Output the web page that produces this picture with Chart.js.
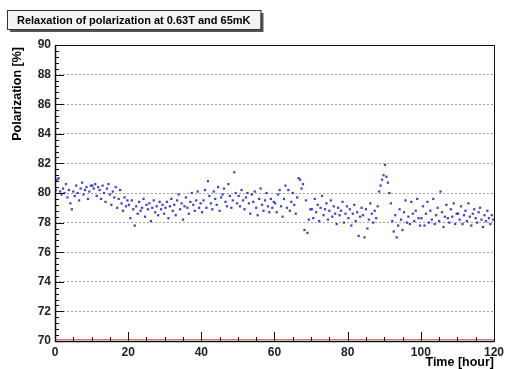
<!DOCTYPE html>
<html>
<head>
<meta charset="utf-8">
<script src="https://cdn.jsdelivr.net/npm/chart.js@4"></script>
<style>
  html, body { margin: 0; padding: 0; background: #fff; }
  #wrap { width: 508px; height: 369px; }
</style>
</head>
<body>
<div id="wrap"><canvas id="chart" width="508" height="369"></canvas></div>
<script>
// measurement time in hours
const timeHours = [
  0.2, 0.6, 1.0, 1.4, 1.8, 2.2, 2.6, 3.0, 3.4, 3.8, 4.2, 4.6, 5.0, 5.4, 5.8, 6.2, 6.6, 7.0, 7.4, 7.8, 8.2, 8.6, 9.0, 9.4, 9.8,
  10.2, 10.6, 11.0, 11.4, 11.8, 12.2, 12.6, 13.0, 13.4, 13.8, 14.2, 14.6, 15.0, 15.4, 15.8, 16.2, 16.6, 17.0, 17.4, 17.8, 18.2, 18.6, 19.0, 19.4, 19.8,
  20.2, 20.6, 21.0, 21.4, 21.8, 22.2, 22.6, 23.0, 23.4, 23.8, 24.2, 24.6, 25.0, 25.4, 25.8, 26.2, 26.6, 27.0, 27.4, 27.8, 28.2, 28.6, 29.0, 29.4, 29.8,
  30.2, 30.6, 31.0, 31.4, 31.8, 32.2, 32.6, 33.0, 33.4, 33.8, 34.2, 34.6, 35.0, 35.4, 35.8, 36.2, 36.6, 37.0, 37.4, 37.8, 38.2, 38.6, 39.0, 39.4, 39.8,
  40.2, 40.6, 41.0, 41.4, 41.8, 42.2, 42.6, 43.0, 43.4, 43.8, 44.2, 44.6, 45.0, 45.4, 45.8, 46.2, 46.6, 47.0, 47.4, 47.8, 48.2, 48.6, 49.0, 49.4, 49.8,
  50.2, 50.6, 51.0, 51.4, 51.8, 52.2, 52.6, 53.0, 53.4, 53.8, 54.2, 54.6, 55.0, 55.4, 55.8, 56.2, 56.6, 57.0, 57.4, 57.8, 58.2, 58.6, 59.0, 59.4, 59.8,
  60.2, 60.6, 61.0, 61.4, 61.8, 62.2, 62.6, 63.0, 63.4, 63.8, 64.2, 64.6, 65.0, 65.4, 65.8, 66.2, 66.6, 67.0, 67.4, 67.8, 68.2, 68.6, 69.0, 69.4, 69.8,
  70.2, 70.6, 71.0, 71.4, 71.8, 72.2, 72.6, 73.0, 73.4, 73.8, 74.2, 74.6, 75.0, 75.4, 75.8, 76.2, 76.6, 77.0, 77.4, 77.8, 78.2, 78.6, 79.0, 79.4, 79.8,
  80.2, 80.6, 81.0, 81.4, 81.8, 82.2, 82.6, 83.0, 83.4, 83.8, 84.2, 84.6, 85.0, 85.4, 85.8, 86.2, 86.6, 87.0, 87.4, 87.8, 88.2, 88.6, 89.0, 89.4, 89.8,
  90.2, 90.6, 91.0, 91.4, 91.8, 92.2, 92.6, 93.0, 93.4, 93.8, 94.2, 94.6, 95.0, 95.4, 95.8, 96.2, 96.6, 97.0, 97.4, 97.8, 98.2, 98.6, 99.0, 99.4, 99.8,
  100.2, 100.6, 101.0, 101.4, 101.8, 102.2, 102.6, 103.0, 103.4, 103.8, 104.2, 104.6, 105.0, 105.4, 105.8, 106.2, 106.6, 107.0, 107.4, 107.8, 108.2, 108.6, 109.0, 109.4, 109.8,
  110.2, 110.6, 111.0, 111.4, 111.8, 112.2, 112.6, 113.0, 113.4, 113.8, 114.2, 114.6, 115.0, 115.4, 115.8, 116.2, 116.6, 117.0, 117.4, 117.8, 118.2, 118.6, 119.0, 119.4, 119.8
];

// polarization in %
const polarization = [
  80.2, 80.9, 81.0, 80.1, 79.9, 80.3, 80.0, 80.6, 79.7, 80.2, 79.3, 78.9, 80.1, 79.8, 80.5, 80.0, 79.5, 80.3, 80.7, 79.9, 80.2, 80.4, 79.6, 80.1, 80.5,
  80.5, 80.3, 80.6, 79.8, 80.4, 80.2, 79.6, 80.5, 80.0, 79.4, 80.3, 80.6, 79.9, 79.2, 80.1, 79.7, 80.4, 79.0, 79.6, 80.2, 79.3, 78.8, 79.7, 79.1, 79.5,
  79.2, 78.3, 79.5, 78.9, 77.8, 79.1, 78.6, 79.4, 78.8, 79.0, 79.6, 78.4, 79.2, 78.9, 79.3, 78.1, 79.0, 79.5, 78.7, 79.1, 78.5, 79.4, 78.9, 79.2, 78.6,
  79.0, 79.4, 78.3, 79.1, 79.6, 78.8, 79.2, 78.5, 79.5, 79.9, 78.9, 79.3, 78.2, 79.1, 79.7, 79.0, 78.6, 79.4, 80.0, 79.2, 78.8, 79.5, 80.1, 79.0, 79.3,
  78.7, 79.5, 80.2, 79.0, 80.8, 79.8, 79.3, 78.9, 80.1, 79.6, 79.2, 80.4, 78.8, 79.7, 79.9, 80.3, 79.4, 79.1, 80.6, 79.8, 79.0, 79.5, 81.4, 80.0, 79.3,
  79.8, 79.1, 80.2, 79.5, 78.9, 79.7, 80.0, 79.3, 78.6, 79.9, 79.4, 80.1, 79.0, 78.5, 79.6, 80.3, 79.2, 78.8, 79.5, 80.0, 79.1, 78.7, 79.6, 79.0, 79.4,
  79.3, 78.7, 79.9, 80.2, 79.1, 78.4, 79.6, 80.5, 79.0, 80.2, 78.8, 79.4, 80.0, 79.2, 78.6, 79.7, 81.0, 80.9, 80.3, 80.6, 77.5, 79.5, 77.3, 78.2, 78.9,
  78.9, 78.3, 79.6, 78.7, 79.2, 78.1, 79.0, 79.8, 78.5, 78.9, 79.3, 78.2, 78.8, 79.5, 78.4, 79.1, 78.6, 77.9, 79.0, 78.5, 78.8, 79.4, 78.0, 78.6, 79.1,
  78.3, 78.9, 77.8, 78.6, 79.2, 78.1, 78.7, 77.1, 78.4, 79.0, 78.5, 77.0, 78.9, 77.6, 78.2, 79.3, 78.6, 78.0, 78.8, 78.3, 79.1, 80.1, 80.5, 80.9, 81.2,
  81.9, 81.1, 80.7, 80.0, 79.3, 78.1, 77.4, 78.5, 77.0, 77.8, 78.9, 78.2, 77.5, 78.7, 79.5, 78.0, 78.4, 77.9, 79.4, 78.6, 78.1, 78.8, 79.6, 78.3, 77.8,
  78.3, 79.1, 77.8, 78.6, 79.4, 78.0, 78.8, 78.2, 79.6, 77.9, 78.5, 79.0, 78.1, 80.1, 78.7, 77.7, 78.4, 79.2, 78.3, 78.0, 78.9, 78.4, 79.3, 77.9, 78.6,
  78.6, 78.2, 79.1, 77.9, 78.5, 78.8, 78.1, 79.3, 78.4, 77.8, 78.6, 78.9, 78.3, 78.0, 78.7, 79.0, 78.2, 77.7, 78.5, 78.1, 78.8, 78.3, 77.9, 78.5, 78.2
];

const titleText = 'Relaxation of polarization at 0.63T and 65mK';
const xTitle = 'Time [hour]';
const yTitle = 'Polarization [%]';

const points = timeHours.map((t, i) => ({ x: t, y: polarization[i] }));

// ROOT style frame, inner ticks, pave title and axis titles
const rootFrame = {
  id: 'rootFrame',
  afterDraw(chart) {
    const ctx = chart.ctx;
    const { left, right, top, bottom } = chart.chartArea;
    const xs = chart.scales.x, ys = chart.scales.y;
    ctx.save();

    // red line just above the x axis
    ctx.strokeStyle = '#e07070';
    ctx.lineWidth = 1;
    ctx.beginPath();
    ctx.moveTo(left, bottom - 1.5);
    ctx.lineTo(right, bottom - 1.5);
    ctx.stroke();

    ctx.strokeStyle = '#111';
    ctx.lineWidth = 1;
    ctx.strokeRect(left + 0.5, top + 0.5, right - left, bottom - top);
    ctx.lineWidth = 1.5;
    ctx.beginPath();
    ctx.moveTo(left + 0.5, top);
    ctx.lineTo(left + 0.5, bottom + 0.5);
    ctx.lineTo(right, bottom + 0.5);
    ctx.stroke();

    // y ticks, 5 divisions per 2 %
    ctx.lineWidth = 1;
    ctx.beginPath();
    for (let i = 0; i <= 50; i++) {
      const py = Math.round(ys.getPixelForValue(70 + i * 0.4)) + 0.5;
      const len = i % 5 === 0 ? 9 : 4;
      ctx.moveTo(left, py);
      ctx.lineTo(left + len, py);
    }
    // x ticks, every 5 hours
    for (let i = 0; i <= 24; i++) {
      const px = Math.round(xs.getPixelForValue(i * 5)) + 0.5;
      const len = i % 4 === 0 ? 9 : 4;
      ctx.moveTo(px, bottom);
      ctx.lineTo(px, bottom - len);
    }
    ctx.stroke();

    // title pave with shadow
    ctx.font = 'bold 11px "Liberation Sans", Arial, sans-serif';
    const tw = ctx.measureText(titleText).width;
    const bx = 7, by = 10, bw = tw + 20, bh = 19;
    ctx.fillStyle = '#555';
    ctx.fillRect(bx + 3, by + 3, bw, bh);
    ctx.fillStyle = '#f4f4f4';
    ctx.fillRect(bx, by, bw, bh);
    ctx.strokeStyle = '#333';
    ctx.strokeRect(bx + 0.5, by + 0.5, bw, bh);
    ctx.fillStyle = '#000';
    ctx.textBaseline = 'middle';
    ctx.textAlign = 'left';
    ctx.fillText(titleText, bx + 10, by + bh / 2 + 1);

    // axis titles
    ctx.font = 'bold 12.5px "Liberation Sans", Arial, sans-serif';
    ctx.textAlign = 'right';
    ctx.textBaseline = 'alphabetic';
    ctx.fillText(xTitle, right, 366);
    ctx.translate(21, top + 2);
    ctx.rotate(-Math.PI / 2);
    ctx.fillText(yTitle, 0, 0);
    ctx.restore();
  }
};

new Chart(document.getElementById('chart'), {
  type: 'scatter',
  data: {
    datasets: [{
      label: 'polarization',
      data: points,
      pointStyle: 'rect',
      pointRadius: 1.6,
      pointHoverRadius: 1.6,
      backgroundColor: 'rgba(35, 35, 185, 0.85)',
      borderWidth: 0
    }]
  },
  options: {
    responsive: false,
    animation: false,
    layout: { padding: { left: 0, right: 12, top: 45, bottom: 0 } },
    plugins: {
      legend: { display: false },
      tooltip: { enabled: false }
    },
    scales: {
      x: {
        type: 'linear',
        min: 0,
        max: 120,
        afterFit: s => { s.height = 28; },
        ticks: {
          stepSize: 20,
          padding: 4,
          color: '#222',
          maxRotation: 0,
          font: { family: '"Liberation Sans", Arial, sans-serif', size: 12, weight: 'bold' }
        },
        grid: { display: false, drawTicks: false },
        border: { display: false }
      },
      y: {
        min: 70,
        max: 90,
        afterFit: s => { s.width = 55; },
        ticks: {
          stepSize: 2,
          padding: 4,
          color: '#222',
          font: { family: '"Liberation Sans", Arial, sans-serif', size: 12, weight: 'bold' }
        },
        grid: {
          drawTicks: false,
          color: '#a0a0a0',
          lineWidth: 1
        },
        border: { display: false, dash: [2, 2] }
      }
    }
  },
  plugins: [rootFrame]
});
</script>
</body>
</html>
